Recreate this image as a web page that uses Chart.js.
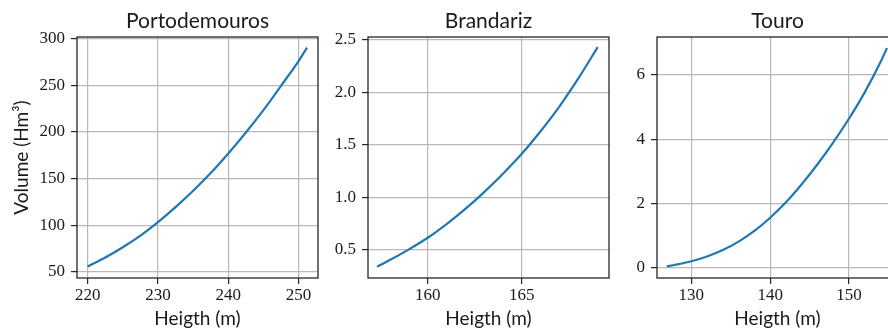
<!DOCTYPE html>
<html>
<head>
<meta charset="utf-8">
<script src="https://cdn.jsdelivr.net/npm/chart.js@4.4.1/dist/chart.umd.min.js"></script>
<style>
  html, body { margin: 0; padding: 0; width: 888px; height: 334px; overflow: hidden; background: #fff; }
  canvas { position: absolute; top: 0; }
</style>
</head>
<body>
<canvas id="c1" width="320" height="334" style="left:0px"></canvas>
<canvas id="c2" width="288" height="334" style="left:322px"></canvas>
<canvas id="c3" width="300" height="334" style="left:612px"></canvas>
<script>
// ---- data ----
const titles = ['Portodemouros', 'Brandariz', 'Touro'];
const xLabel = 'Heigth (m)';
const yLabel = 'Volume (Hm³)';

const heights1 = [220, 222.5, 225, 227.5, 230, 232.5, 235, 237.5, 240, 242.5, 245, 247.5, 250, 251.2];
const volumes1 = [56, 65.5, 76.5, 89, 103.5, 119.5, 137, 156, 177, 199.5, 223.5, 249.5, 276, 290.5];

const heights2 = [157.3, 158, 159, 160, 161, 162, 163, 164, 165, 166, 167, 168, 169.04];
const volumes2 = [0.34, 0.405, 0.505, 0.615, 0.745, 0.89, 1.05, 1.225, 1.415, 1.63, 1.865, 2.13, 2.43];

const heights3 = [126.9, 128, 130, 132, 134, 136, 138, 140, 142, 144, 146, 148, 150, 152, 154, 154.8];
const volumes3 = [0.05, 0.1, 0.21, 0.36, 0.56, 0.82, 1.15, 1.56, 2.04, 2.6, 3.22, 3.9, 4.64, 5.46, 6.4, 6.83];

const xTicks1 = [220, 230, 240, 250];
const yTicks1 = [50, 100, 150, 200, 250, 300];
const yTickLabels1 = ['50', '100', '150', '200', '250', '300'];
const xTicks2 = [160, 165];
const yTicks2 = [0.5, 1.0, 1.5, 2.0, 2.5];
const yTickLabels2 = ['0.5', '1.0', '1.5', '2.0', '2.5'];
const xTicks3 = [130, 140, 150];
const yTicks3 = [0, 2, 4, 6];
const yTickLabels3 = ['0', '2', '4', '6'];

// ---- layout / style ----
const TICK_FONT = { family: "'Liberation Serif', 'DejaVu Serif', serif", size: 17 };
const SANS_FONT = "Lato, 'Open Sans', sans-serif";
const GRID = '#b8b8b8';
const SPINE = '#262626';
const LINE = '#1f77b4';

const frame = {
  id: 'frame',
  afterDraw(chart) {
    const a = chart.chartArea, ctx = chart.ctx;
    ctx.save();
    ctx.strokeStyle = SPINE;
    ctx.lineWidth = 1.3;
    ctx.strokeRect(a.left, a.top, a.right - a.left, a.bottom - a.top);
    ctx.restore();
  }
};

function makeChart(id, p) {
  const pts = p.xs.map((x, i) => ({ x: x, y: p.ys[i] }));
  return new Chart(document.getElementById(id), {
    type: 'scatter',
    data: { datasets: [{
      data: pts, showLine: true, borderColor: LINE, borderWidth: 2.2,
      pointRadius: 0, pointHoverRadius: 0, cubicInterpolationMode: 'monotone', fill: false
    }]},
    plugins: [frame],
    options: {
      responsive: false, animation: false, devicePixelRatio: 1,
      layout: { padding: { left: 0, top: 0, bottom: 0, right: p.padRight } },
      plugins: {
        legend: { display: false }, tooltip: { enabled: false },
        title: { display: true, text: p.title, fullSize: false, color: '#1a1a1a',
          font: { family: SANS_FONT, size: 21, weight: 'normal' },
          padding: { top: 8.5, bottom: 3.3 } }
      },
      scales: {
        x: {
          type: 'linear', min: p.xr[0], max: p.xr[1],
          afterBuildTicks: s => { s.ticks = p.xt.map(v => ({ value: v })); },
          afterFit: s => { s.height = 56; },
          ticks: { font: TICK_FONT, color: '#1a1a1a', padding: 1, maxRotation: 0,
                   callback: v => String(v) },
          grid: { color: GRID, lineWidth: 1.2, tickColor: SPINE, tickLength: 6, tickWidth: 1.2 },
          border: { display: false },
          title: { display: true, text: xLabel, color: '#1a1a1a',
                   font: { family: SANS_FONT, size: 19 }, padding: { top: 0, bottom: 3.5 } }
        },
        y: {
          type: 'linear', min: p.yr[0], max: p.yr[1],
          afterBuildTicks: s => { s.ticks = p.yt.map(v => ({ value: v })); },
          afterFit: s => { s.width = p.yw; },
          ticks: { font: TICK_FONT, color: '#1a1a1a', padding: 6,
                   callback: (v, i) => p.ytl[i] },
          grid: { color: GRID, lineWidth: 1.2, tickColor: SPINE, tickLength: 6, tickWidth: 1.2 },
          border: { display: false },
          title: { display: !!p.showY, text: yLabel, color: '#1a1a1a',
                   font: { family: SANS_FONT, size: 19 }, padding: { top: 10.5, bottom: 0 } }
        }
      }
    }
  });
}

makeChart('c1', { title: titles[0], xs: heights1, ys: volumes1, xt: xTicks1, yt: yTicks1, ytl: yTickLabels1,
  xr: [218.48, 252.76], yr: [43.6, 301.8], yw: 77, padRight: 2, showY: true });
makeChart('c2', { title: titles[1], xs: heights2, ys: volumes2, xt: xTicks2, yt: yTicks2, ytl: yTickLabels2,
  xr: [156.82, 169.64], yr: [0.232, 2.527], yw: 46, padRight: 1 });
makeChart('c3', { title: titles[2], xs: heights3, ys: volumes3, xt: xTicks3, yt: yTicks3, ytl: yTickLabels3,
  xr: [125.66, 156.2], yr: [-0.31, 7.17], yw: 45, padRight: 14 });
</script>
</body>
</html>
